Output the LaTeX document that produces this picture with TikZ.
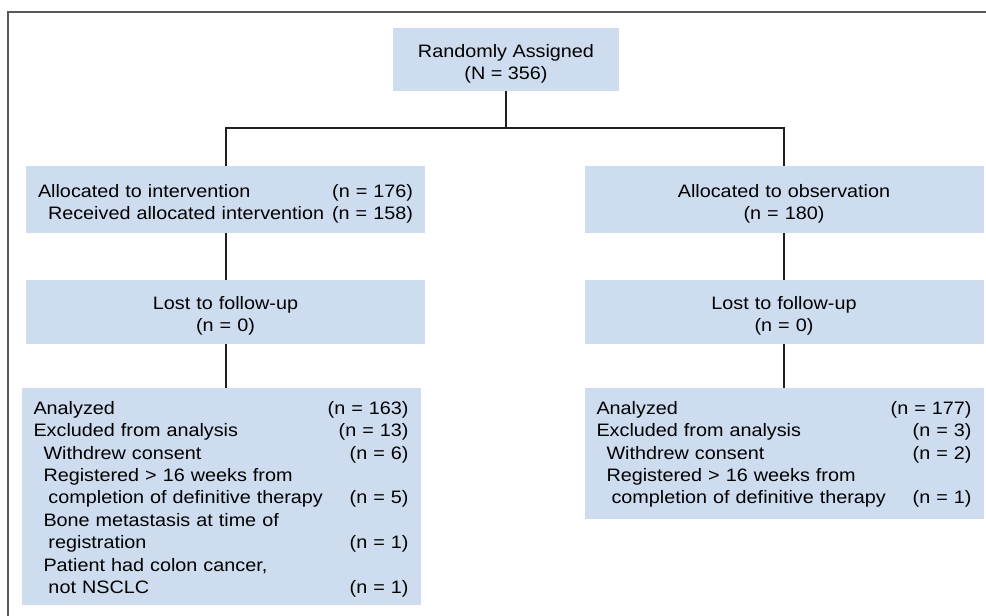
\documentclass[tikz,border=0pt]{standalone}
\usepackage{fontspec}
\setmainfont[FakeStretch=1.1]{Liberation Sans}
\usepackage{tikz}

\definecolor{boxblue}{HTML}{CDDCEE}
\definecolor{linedark}{HTML}{231F20}
\definecolor{framegray}{HTML}{58585A}

\newcommand{\firstline}[1][29]{\rule{0pt}{#1pt}}
\newcommand{\lastline}[1][12]{\rule[-#1pt]{0pt}{0pt}}
\newcommand{\lvlone}{\hspace*{10pt}}
\newcommand{\lvltwo}{\hspace*{15pt}}

\begin{document}
\begin{tikzpicture}[x=1pt,y=-1pt,
	box/.style={fill=boxblue, inner xsep=12pt, inner ysep=0pt, anchor=north,
		font=\fontsize{18}{22.4}\selectfont},
	wide/.style={box, text width=375pt, align=left},
	link/.style={draw=linedark, line width=2pt}]

	\useasboundingbox (0,0) rectangle (986,616);
	\draw[framegray, line width=1.3pt] (8,616) -- (8,12) -- (986,12);

	\node[box, minimum width=226pt, align=center] (rand) at (506,28)
	{\firstline Randomly Assigned\\(N = 356)\lastline[11]};

	% arms
	\node[wide, minimum height=67pt] (allocI) at (225.5,166)
	{\firstline Allocated to intervention\hfill(n = 176)\\
	\lvlone Received allocated intervention\hfill(n = 158)\lastline};
	\node[wide, minimum height=67pt, align=center] (allocO) at (784,166)
	{\firstline Allocated to observation\\(n = 180)\lastline};

	\node[wide, align=center] (lostI) at (225.5,280)
	{\firstline Lost to follow-up\\(n = 0)\lastline};
	\node[wide, align=center] (lostO) at (784,280)
	{\firstline Lost to follow-up\\(n = 0)\lastline};

	\node[wide] (anaI) at (221,388)
	{\firstline[26]Analyzed\hfill(n = 163)\\
	Excluded from analysis\hfill(n = 13)\\
	\lvlone Withdrew consent\hfill(n = 6)\\
	\lvlone Registered > 16 weeks from\\
	\lvltwo completion of definitive therapy\hfill(n = 5)\\
	\lvlone Bone metastasis at time of\\
	\lvltwo registration\hfill(n = 1)\\
	\lvlone Patient had colon cancer,\\
	\lvltwo not NSCLC\hfill(n = 1)\lastline};
	\node[wide] (anaO) at (784,388)
	{\firstline[26]Analyzed\hfill(n = 177)\\
	Excluded from analysis\hfill(n = 3)\\
	\lvlone Withdrew consent\hfill(n = 2)\\
	\lvlone Registered > 16 weeks from\\
	\lvltwo completion of definitive therapy\hfill(n = 1)\lastline[15]};

	% connectors
	\coordinate (split) at (506,128);
	\draw[link] (rand.south) -- (split);
	\draw[link] (allocI.north) |- (split) -| (allocO.north);
	\draw[link] (allocI) -- (lostI);
	\draw[link] (allocO) -- (lostO);
	\draw[link] (lostI.south) -- (lostI.south |- anaI.north);
	\draw[link] (lostO) -- (anaO);

\end{tikzpicture}
\end{document}
